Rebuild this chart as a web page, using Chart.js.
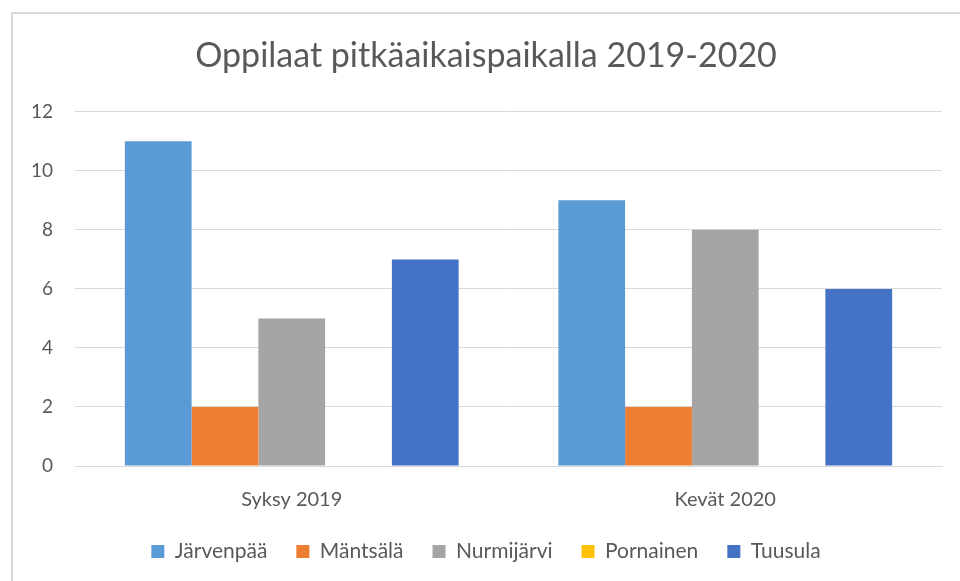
<!DOCTYPE html>
<html><head><meta charset="utf-8">
<script src="https://cdn.jsdelivr.net/npm/chart.js@4/dist/chart.umd.min.js"></script>
<style>html,body{margin:0;padding:0;background:#fff}#wrap{width:960px;height:581px;position:relative}</style>
</head><body><div id="wrap"><canvas id="c" width="960" height="581"></canvas></div>
<script>
const categories = ["Syksy 2019", "Kevät 2020"];
const seriesNames = ["Järvenpää", "Mäntsälä", "Nurmijärvi", "Pornainen", "Tuusula"];
const jarvenpaa = [11, 9];
const mantsala = [2, 2];
const nurmijarvi = [5, 8];
const pornainen = [0, 0];
const tuusula = [7, 6];
const colors = ["#5B9BD5", "#ED7D31", "#A5A5A5", "#FFC000", "#4472C4"];
const yTicks = [0, 2, 4, 6, 8, 10, 12];
const values = [jarvenpaa, mantsala, nurmijarvi, pornainen, tuusula];
const FONT = "Lato, 'Open Sans', sans-serif";
const LEGEND_SHRINK = 22;

const frame = {
  id: 'frame',
  beforeInit(chart) {
    const lg = chart.legend;
    if (lg) {
      const orig = lg.fit;
      lg.fit = function () { orig.call(this); this.height -= LEGEND_SHRINK; };
    }
  },
  afterLayout(chart) {
    const lg = chart.legend;
    if (lg) { lg.top -= LEGEND_SHRINK; lg.height += LEGEND_SHRINK; }
  },
  beforeDraw(chart) {
    const ctx = chart.ctx;
    ctx.save();
    ctx.fillStyle = '#fff';
    ctx.fillRect(0, 0, chart.width, chart.height);
    ctx.strokeStyle = '#d9d9d9';
    ctx.lineWidth = 2;
    ctx.strokeRect(12, 13, 1000, 1000);
    ctx.restore();
  }
};

new Chart(document.getElementById('c'), {
  type: 'bar',
  data: {
    labels: categories,
    datasets: seriesNames.map((n, i) => ({
      label: n,
      data: values[i],
      backgroundColor: colors[i],
      borderColor: colors[i],
      borderWidth: 0,
      categoryPercentage: 0.77,
      barPercentage: 1.0
    }))
  },
  options: {
    responsive: false,
    animation: false,
    layout: { padding: { left: 30, right: 18, top: 0, bottom: 9 } },
    plugins: {
      title: {
        display: true,
        text: 'Oppilaat pitkäaikaispaikalla 2019-2020',
        color: '#595959',
        font: { family: FONT, size: 34, weight: 'normal' },
        padding: { top: 36, bottom: 35 }
      },
      legend: {
        position: 'bottom',
        labels: {
          color: '#595959',
          font: { family: FONT, size: 21 },
          boxWidth: 13,
          boxHeight: 13,
          padding: 29
        }
      },
      tooltip: { enabled: false }
    },
    scales: {
      x: {
        grid: { display: false, drawTicks: false },
        border: { display: true, color: '#d9d9d9', width: 1 },
        ticks: { color: '#595959', font: { family: FONT, size: 20 }, padding: 22 }
      },
      y: {
        min: 0, max: 12,
        clip: false,
        afterBuildTicks(scale) { scale.ticks = yTicks.map(v => ({ value: v })); },
        afterFit(scale) { scale.width = 45; },
        grid: { color: '#d9d9d9', lineWidth: 1, drawTicks: false },
        border: { display: false },
        ticks: { color: '#595959', font: { family: FONT, size: 19 }, padding: 22 }
      }
    }
  },
  plugins: [frame]
});
</script></body></html>
